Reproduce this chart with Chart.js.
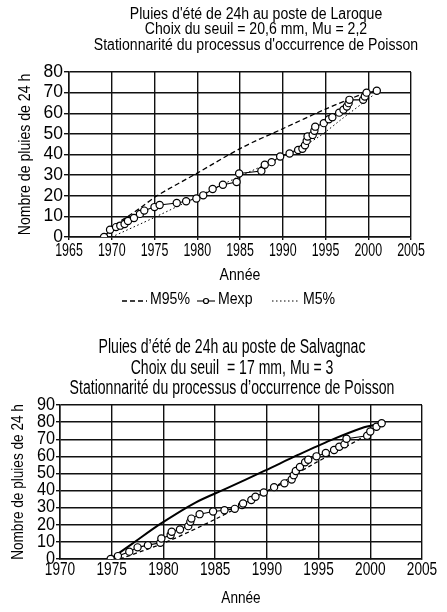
<!DOCTYPE html>
<html lang="fr">
<head>
<meta charset="utf-8">
<title>Pluies d'été de 24h – Laroque et Salvagnac</title>
<script src="https://cdn.jsdelivr.net/npm/chart.js@4.4.1/dist/chart.umd.min.js"></script>
<style>
  html, body { margin: 0; padding: 0; background: #fff; }
  #page { position: relative; width: 447px; height: 612px; overflow: hidden; }
  #page canvas { position: absolute; left: 0; }
  #laroque { top: 0; }
  #salvagnac { top: 325px; }
</style>
</head>
<body>
<div id="page">
  <canvas id="laroque" width="447" height="320"></canvas>
  <canvas id="salvagnac" width="447" height="287"></canvas>
</div>
<script>
// ---------- Laroque (seuil 20,6 mm) ----------
const laroqueTitle = [
  "Pluies d'été de 24h au poste de Laroque",
  "Choix du seuil = 20,6 mm, Mu = 2,2",
  "Stationnarité du processus d'occurrence de Poisson"
];
const laroqueYearTicks = [1965, 1970, 1975, 1980, 1985, 1990, 1995, 2000, 2005];
const laroqueCountTicks = [0, 10, 20, 30, 40, 50, 60, 70, 80];

// observed cumulative number of events (Mexp)
const laroqueMexpYears = [1969.1, 1969.8, 1970.5, 1971.0, 1971.5, 1971.9, 1972.6, 1973.3, 1973.8, 1975.0,
  1975.6, 1977.6, 1978.7, 1979.9, 1980.7, 1981.8, 1983.0, 1984.6, 1984.9, 1987.5,
  1987.9, 1988.7, 1989.7, 1990.8, 1991.8, 1992.3, 1992.6, 1992.8, 1992.9, 1993.5,
  1993.7, 1993.8, 1994.8, 1995.4, 1995.8, 1996.6, 1997.1, 1997.5, 1997.7, 1997.8,
  1999.4, 1999.6, 1999.8, 2001.0];
const laroqueMexpCounts = [0, 3.5, 4.8, 5.5, 6.3, 7.8, 9.2, 11.2, 12.8, 14.5,
  15.5, 16.5, 17.3, 18.7, 20.2, 23.3, 25.3, 26.7, 30.8, 32,
  35, 36.3, 39, 40.5, 42.2, 42.8, 44.5, 46.6, 48.7, 49.5,
  51.5, 53.5, 55.2, 57.1, 58.1, 60.3, 61.7, 63.3, 64.9, 66.5,
  66.5, 68.1, 70, 70.9];

// upper (95 %) and lower (5 %) bounds of the Poisson count
const laroqueM95Years = [1969.1, 1969.8, 1970.6, 1971.9, 1973.3, 1975.3, 1980.0, 1985.3, 1990.0, 1995.0, 1999.8];
const laroqueM95Counts = [0, 3, 6.5, 10, 14, 20, 31, 43.5, 52.5, 62, 70.2];
const laroqueM5Years = [1970.0, 1975.0, 1980.0, 1985.0, 1990.0, 1994.0, 1997.0, 2000.5];
const laroqueM5Counts = [0, 9.5, 19.5, 29.5, 39, 48, 57.5, 68.5];

// ---------- Salvagnac (seuil 17 mm) ----------
const salvagnacTitle = [
  "Pluies d’été de 24h au poste de Salvagnac",
  "Choix du seuil  = 17 mm, Mu = 3",
  "Stationnarité du processus d’occurrence de Poisson"
];
const salvagnacYearTicks = [1970, 1975, 1980, 1985, 1990, 1995, 2000, 2005];
const salvagnacCountTicks = [0, 10, 20, 30, 40, 50, 60, 70, 80, 90];

const salvagnacMexpYears = [1974.9, 1975.6, 1976.7, 1977.5, 1978.5, 1979.7, 1979.8, 1980.7, 1980.8, 1981.6,
  1982.4, 1982.6, 1982.7, 1983.5, 1984.8, 1985.9, 1986.9, 1987.6, 1987.7, 1988.5,
  1988.9, 1989.7, 1990.7, 1991.7, 1992.4, 1992.6, 1992.8, 1993.2, 1993.7, 1994.0,
  1994.8, 1995.7, 1996.5, 1997.0, 1997.5, 1997.7, 1999.7, 2000.0, 2000.6, 2001.1];
const salvagnacMexpCounts = [0, 1.7, 4.3, 6.8, 8.1, 9.5, 12, 14, 15.9, 17.2,
  19.2, 21.7, 23.6, 26.2, 27.8, 28.5, 29.3, 31.5, 32.4, 34.5,
  36.4, 38.9, 42, 44.2, 46.5, 49, 51.4, 53.8, 56.5, 58,
  60, 62, 63.7, 65.6, 67, 70.3, 72, 74.5, 77.3, 79.3];

const salvagnacM95Years = [1975.0, 1977.0, 1979.7, 1983.1, 1986.0, 1989.8, 1993.0, 1996.2, 1999.4, 2000.5];
const salvagnacM95Counts = [0.5, 9, 20.5, 33, 41, 51.6, 60.8, 69.5, 77, 78.5];
const salvagnacM5Years = [1975.8, 1980.3, 1985.1, 1990.0, 1994.5, 1998.8, 2000.6];
const salvagnacM5Counts = [0, 10, 23.5, 39.5, 55.5, 69.5, 76.5];

const legendNames = ["M95%", "Mexp", "M5%"];
const axisTitleX = "Année";
const axisTitleY = "Nombre de pluies de 24 h";

// ---------- drawing ----------
const FONT = '"Liberation Sans", Arial, "DejaVu Sans", sans-serif';
const X_TICK_SIZE = 18;    // year labels
const Y_TICK_SIZE = 17.5;  // count labels
const LABEL_SIZE = 17;     // axis titles and legend
Chart.defaults.font.family = FONT;
Chart.defaults.color = '#000';

const points = (xs, ys) => xs.map((x, i) => ({ x, y: ys[i] }));

// narrow lettering: each label is condensed horizontally around its anchor,
// with a factor chosen by font size
const condensePlugin = {
  id: 'condense',
  beforeInit(chart, args, o) {
    const ctx = chart.ctx;
    const plain = ctx.fillText.bind(ctx);
    ctx.plainFillText = plain;
    ctx.fillText = function (text, x, y, maxWidth) {
      const m = /(\d+(?:\.\d+)?)px/.exec(ctx.font);
      const sx = (m && o.bySize[m[1]]) || o.fallback;
      ctx.save();
      ctx.translate(x, y);
      ctx.scale(sx, 1);
      if (maxWidth === undefined) plain(text, 0, 0);
      else plain(text, 0, 0, maxWidth / sx);
      ctx.restore();
    };
  }
};

// multi-line heading, centred with an offset from the plot centre
const headingPlugin = {
  id: 'heading',
  afterDraw(chart, args, o) {
    const { ctx, chartArea } = chart;
    const cx = (chartArea.left + chartArea.right) / 2 + o.dx;
    ctx.save();
    ctx.fillStyle = '#000';
    ctx.font = `${o.size}px ${FONT}`;
    ctx.textAlign = 'center';
    ctx.textBaseline = 'alphabetic';
    o.lines.forEach((t, i) => {
      ctx.save();
      ctx.translate(cx, o.baseline + i * o.step);
      ctx.scale(o.sx, o.stretch);
      ctx.plainFillText(t, 0, 0);
      ctx.restore();
    });
    ctx.restore();
  }
};

// single-row legend under the x-axis title, samples taken from the datasets
const keyPlugin = {
  id: 'key',
  afterDraw(chart, args, o) {
    if (!o.show) return;
    const { ctx } = chart;
    const ds = chart.data.datasets;
    const order = [1, 0, 2];   // M95%, Mexp, M5%
    ctx.save();
    ctx.font = `${LABEL_SIZE}px ${FONT}`;
    ctx.textBaseline = 'middle';
    ctx.textAlign = 'left';
    const y = o.y;
    order.forEach((di, k) => {
      const d = ds[di];
      const x = o.starts[k];
      const w = o.sampleWidths[k];
      ctx.strokeStyle = d.borderColor;
      ctx.lineWidth = d.borderWidth;
      ctx.setLineDash(d.borderDash || []);
      ctx.beginPath();
      ctx.moveTo(x, y + 2);
      ctx.lineTo(x + w, y + 2);
      ctx.stroke();
      ctx.setLineDash([]);
      if (d.pointRadius > 0) {
        ctx.beginPath();
        ctx.arc(x + w / 2, y + 2, d.pointRadius * 0.7, 0, Math.PI * 2);
        ctx.fillStyle = d.pointBackgroundColor;
        ctx.fill();
        ctx.lineWidth = d.pointBorderWidth;
        ctx.strokeStyle = d.pointBorderColor;
        ctx.stroke();
      }
      ctx.fillStyle = '#000';
      ctx.fillText(legendNames[k], x + w + 3, y);
    });
    ctx.restore();
  }
};

function fixedTicks(values) {
  return scale => { scale.ticks = values.map(v => ({ value: v })); };
}

function makeChart(id, cfg) {
  const mexpStyle = {
    borderColor: '#000', borderWidth: 1.1,
    pointStyle: 'circle', pointRadius: 3.6, pointHoverRadius: 3.6,
    pointBackgroundColor: '#fff', pointBorderColor: '#000', pointBorderWidth: 1.2
  };
  return new Chart(document.getElementById(id), {
    type: 'scatter',
    data: {
      datasets: [
        Object.assign({ label: 'Mexp', data: points(cfg.mexp[0], cfg.mexp[1]), showLine: true }, mexpStyle),
        { label: 'M95%', data: points(cfg.m95[0], cfg.m95[1]), showLine: true,
          borderColor: '#000', borderWidth: cfg.m95Width, borderDash: cfg.m95Dash,
          pointRadius: 0, tension: 0.3 },
        { label: 'M5%', data: points(cfg.m5[0], cfg.m5[1]), showLine: true,
          borderColor: '#000', borderWidth: cfg.m5Width, borderDash: cfg.m5Dash,
          pointRadius: 0, tension: 0.3 }
      ]
    },
    options: {
      responsive: false,
      animation: false,
      events: [],
      layout: { padding: cfg.padding },
      plugins: {
        legend: { display: false },
        tooltip: { enabled: false },
        condense: {
          bySize: { [X_TICK_SIZE]: cfg.xTickSx, [Y_TICK_SIZE]: cfg.yTickSx, [LABEL_SIZE]: cfg.labelSx },
          fallback: 0.85
        },
        heading: cfg.heading,
        key: cfg.key
      },
      scales: {
        x: {
          type: 'linear',
          min: cfg.xTicks[0], max: cfg.xTicks[cfg.xTicks.length - 1],
          afterBuildTicks: fixedTicks(cfg.xTicks),
          afterFit: s => { s.height = cfg.xHeight; },
          grid: { color: '#111', lineWidth: 1.4, tickLength: cfg.xTickLen, tickColor: '#111' },
          border: { color: '#111', width: 1.5 },
          ticks: { autoSkip: false, maxRotation: 0, minRotation: 0, padding: 0,
                   font: { size: X_TICK_SIZE }, color: '#000', callback: v => String(v) },
          title: { display: true, text: axisTitleX, font: { size: LABEL_SIZE }, color: '#000',
                   padding: { top: 0, bottom: 0 } }
        },
        y: {
          type: 'linear',
          min: cfg.yTicks[0], max: cfg.yTicks[cfg.yTicks.length - 1],
          afterBuildTicks: fixedTicks(cfg.yTicks),
          afterFit: s => { s.width = cfg.yWidth; },
          grid: { color: '#111', lineWidth: 1.4, tickLength: cfg.yTickLen, tickColor: '#111' },
          border: { color: '#111', width: 1.5 },
          ticks: { autoSkip: false, padding: 1, font: { size: Y_TICK_SIZE }, color: '#000',
                   callback: v => String(v) },
          title: { display: true, text: axisTitleY, font: { size: LABEL_SIZE }, color: '#000',
                   padding: { top: cfg.yTitlePad, bottom: 0 } }
        }
      }
    },
    plugins: [condensePlugin, headingPlugin, keyPlugin]
  });
}

makeChart('laroque', {
  mexp: [laroqueMexpYears, laroqueMexpCounts],
  m95: [laroqueM95Years, laroqueM95Counts], m95Width: 1.3, m95Dash: [5, 3],
  m5: [laroqueM5Years, laroqueM5Counts], m5Width: 1, m5Dash: [1.5, 2.5],
  xTicks: laroqueYearTicks, yTicks: laroqueCountTicks,
  padding: { top: 72, right: 36, bottom: 34, left: 0 },
  xHeight: 49, yWidth: 69, xTickLen: 3, yTickLen: 5, yTitlePad: 15,
  xTickSx: 0.69, yTickSx: 1.0, labelSx: 0.83,
  heading: { lines: laroqueTitle, size: 16, sx: 0.88, dx: 16, baseline: 18.5, step: 15.5, stretch: 1 },
  key: { show: true, starts: [122, 197, 272], y: 299, sampleWidths: [25, 18, 28] }
});

makeChart('salvagnac', {
  mexp: [salvagnacMexpYears, salvagnacMexpCounts],
  m95: [salvagnacM95Years, salvagnacM95Counts], m95Width: 2, m95Dash: [],
  m5: [salvagnacM5Years, salvagnacM5Counts], m5Width: 1.3, m5Dash: [4, 3],
  xTicks: salvagnacYearTicks, yTicks: salvagnacCountTicks,
  padding: { top: 80, right: 25, bottom: 3, left: 0 },
  xHeight: 50, yWidth: 60, xTickLen: 0, yTickLen: 4, yTitlePad: 8.5,
  xTickSx: 0.76, yTickSx: 0.93, labelSx: 0.8,
  heading: { lines: salvagnacTitle, size: 16, sx: 0.88, dx: -9, baseline: 28, step: 20.5, stretch: 1.25 },
  key: { show: false }
});
</script>
</body>
</html>
